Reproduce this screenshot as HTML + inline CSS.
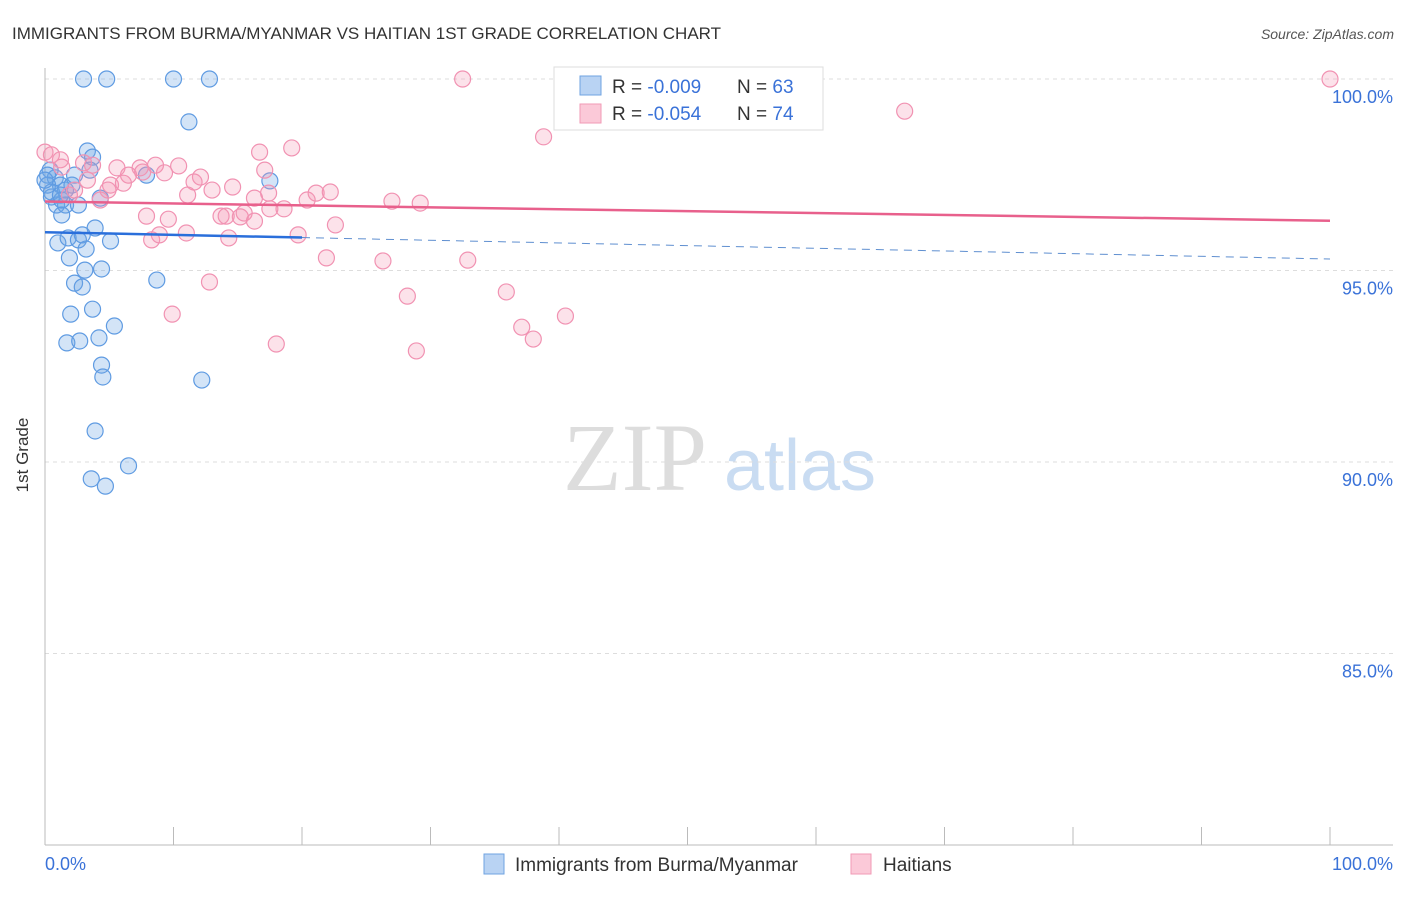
<!DOCTYPE html>
<html><head><meta charset="utf-8"><style>
body{margin:0;background:#fff;font-family:"Liberation Sans",sans-serif;}
</style></head><body>
<svg id="c" width="1406" height="892" xmlns="http://www.w3.org/2000/svg">
<text x="12" y="39" font-size="17" fill="#333">IMMIGRANTS FROM BURMA/MYANMAR VS HAITIAN 1ST GRADE CORRELATION CHART</text>
<text x="1394" y="39" font-size="14" fill="#555" font-style="italic" text-anchor="end">Source: ZipAtlas.com</text>
<text x="28" y="455" font-size="17" fill="#333" text-anchor="middle" transform="rotate(-90 28 455)">1st Grade</text>
<g><text x="635" y="490" font-size="96" font-family="Liberation Serif,serif" fill="#ddd" text-anchor="middle">ZIP</text><text x="800" y="490" font-size="72" fill="#c9dcf2" text-anchor="middle">atlas</text></g>
<g id="grid"></g><g id="axes"></g><g id="pts"></g><g id="trend"></g>
<g>
<rect x="554" y="67" width="269" height="63" fill="#fff" stroke="#ddd"/>
<rect x="580" y="76" width="21" height="19" fill="#b9d3f3" stroke="#6fa3e2"/>
<rect x="580" y="104" width="21" height="19" fill="#fbc9d8" stroke="#f09ab6"/>
<text x="612" y="93" font-size="19" fill="#333">R = <tspan fill="#3a72d8">-0.009</tspan></text>
<text x="737" y="93" font-size="19" fill="#333">N = <tspan fill="#3a72d8">63</tspan></text>
<text x="612" y="120" font-size="19" fill="#333">R = <tspan fill="#3a72d8">-0.054</tspan></text>
<text x="737" y="120" font-size="19" fill="#333">N = <tspan fill="#3a72d8">74</tspan></text>
</g>
<g>
<rect x="484" y="854" width="20" height="20" fill="#b9d3f3" stroke="#6fa3e2"/>
<text x="515" y="871" font-size="19" fill="#333">Immigrants from Burma/Myanmar</text>
<rect x="851" y="854" width="20" height="20" fill="#fbc9d8" stroke="#f09ab6"/>
<text x="883" y="871" font-size="19" fill="#333">Haitians</text>
</g>
</svg>
<script>
const blueX=[3.0,4.8,10.0,12.8,11.2,3.3,3.7,7.9,17.5,3.5,0.4,0.8,1.2,1.6,0.5,0.9,1.6,2.6,4.3,1.3,2.1,0.2,1.0,1.8,2.6,2.9,3.9,5.1,3.2,1.9,3.1,4.4,8.7,2.3,2.9,3.7,2.0,5.4,4.2,1.7,2.7,4.4,4.5,12.2,3.9,6.5,3.6,4.7,0.2,0.5,1.3,2.3,1.2,0];
const blueY=[100,100,100,100,98.88,98.12,97.96,97.49,97.34,97.62,97.62,97.42,97.23,97.10,96.92,96.71,96.71,96.71,96.89,96.45,97.23,97.49,95.72,95.85,95.80,95.93,96.11,95.77,95.56,95.33,95.01,95.04,94.75,94.67,94.57,93.99,93.86,93.55,93.24,93.11,93.16,92.53,92.22,92.14,90.81,89.90,89.56,89.37,97.23,97.05,96.84,97.49,96.97,97.36];
const pinkX=[32.5,100,66.9,38.8,19.2,16.7,0,0.5,1.2,3.7,3.0,5.6,7.4,8.6,10.4,7.6,6.5,9.3,12.1,11.6,14.6,17.1,5.1,6.1,4.9,13.0,11.1,17.4,16.3,21.1,22.2,20.4,27.0,29.2,7.9,9.6,13.7,15.2,14.1,17.5,18.6,15.5,16.3,22.6,11.0,8.3,8.9,14.3,19.7,21.9,26.3,32.9,35.9,28.2,12.8,9.9,37.1,38.0,40.5,18.0,28.9,2.3,4.3,1.9,3.3,1.3];
const pinkY=[100,100,99.16,98.49,98.20,98.09,98.09,98.02,97.89,97.75,97.81,97.68,97.68,97.75,97.73,97.57,97.49,97.55,97.44,97.31,97.18,97.62,97.23,97.28,97.10,97.10,96.97,97.02,96.89,97.02,97.05,96.84,96.81,96.76,96.42,96.34,96.42,96.40,96.42,96.61,96.61,96.50,96.29,96.19,95.98,95.80,95.93,95.85,95.93,95.33,95.25,95.27,94.44,94.33,94.70,93.86,93.52,93.21,93.81,93.08,92.90,97.10,96.84,96.97,97.36,97.70];
const yTicks=[100,95,90,85];
const yTickLabels=["100.0%","95.0%","90.0%","85.0%"];
const blueTrend=[96.0,95.3];
const pinkTrend=[96.8,96.3];
const NS="http://www.w3.org/2000/svg";
const sx=v=>45+v*12.85, sy=v=>79+(100-v)*38.3;
function mk(tag,at,parent){const e=document.createElementNS(NS,tag);for(const k in at)e.setAttribute(k,at[k]);document.getElementById(parent).appendChild(e);return e;}
yTicks.forEach((t,i)=>{
 const l=mk('line',{x1:45,x2:1393,y1:sy(t),y2:sy(t),stroke:'#ddd','stroke-dasharray':'4 4'},'grid');
 
 
 const tx=mk('text',{x:1393,y:sy(t)+24,'font-size':18,fill:'#3a72d8','text-anchor':'end'},'grid');
 tx.textContent=yTickLabels[i];
 
 
});
let a=mk('line',{x1:45,x2:45,y1:68,y2:845,stroke:'#bbb'},'axes');


a=mk('line',{x1:45,x2:1393,y1:845,y2:845,stroke:'#bbb'},'axes');


for(let i=0;i<=10;i++){const t=mk('line',{x1:sx(i*10),x2:sx(i*10),y1:827,y2:845,stroke:'#bbb'},'axes');
 
 }
[["0.0%",45,'start'],["100.0%",1393,'end']].forEach(d=>{const t=mk('text',{x:d[1],y:870,'font-size':18,fill:'#3a72d8','text-anchor':d[2]},'axes');t.textContent=d[0];
 
 });
blueX.forEach((x,i)=>{const c=mk('circle',{cx:sx(x),cy:sy(blueY[i]),r:8,fill:'rgba(110,165,230,0.3)',stroke:'#5f9be2','stroke-width':1.2},'pts');
 
 });
pinkX.forEach((x,i)=>{const c=mk('circle',{cx:sx(x),cy:sy(pinkY[i]),r:8,fill:'rgba(245,150,180,0.28)',stroke:'#f192b2','stroke-width':1.2},'pts');
 
 });
const bAt=x=>blueTrend[0]+(blueTrend[1]-blueTrend[0])*x/100;
let t=mk('line',{x1:sx(0),y1:sy(bAt(0)),x2:sx(20),y2:sy(bAt(20)),stroke:'#2a6fdb','stroke-width':2.5},'trend');


t=mk('line',{x1:sx(20),y1:sy(bAt(20)),x2:sx(100),y2:sy(bAt(100)),stroke:'#5f8fd0','stroke-width':1,'stroke-dasharray':'8 6'},'trend');


t=mk('line',{x1:sx(0),y1:sy(pinkTrend[0]),x2:sx(100),y2:sy(pinkTrend[1]),stroke:'#e8608c','stroke-width':2.5},'trend');


</script>
</body></html>
